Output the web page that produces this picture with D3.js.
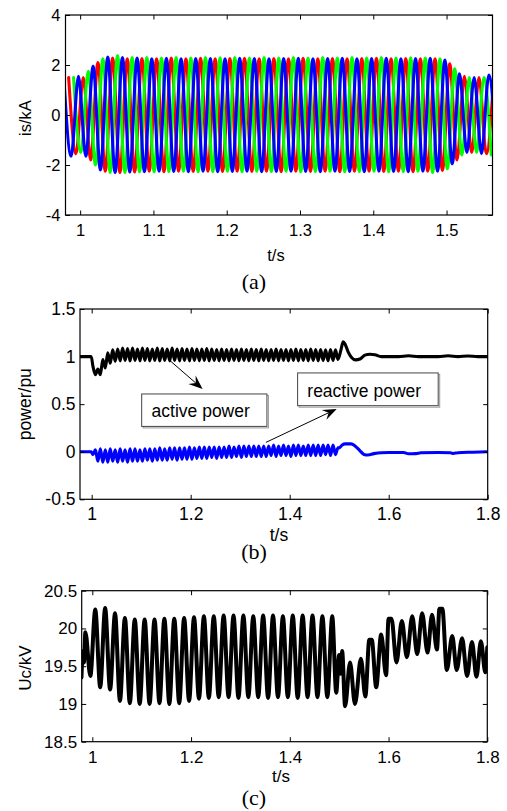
<!DOCTYPE html>
<html>
<head>
<meta charset="utf-8">
<script src="https://cdn.jsdelivr.net/npm/d3@7"></script>
<style>
  body { margin: 0; background: #fff; }
  svg { display: block; }
</style>
</head>
<body>
<svg id="chart"></svg>
<script>
// ---------- (a) stator currents, extrema every half cycle (0.01 s) ----------
const isStep = 0.01;
const isRedStart = 0.9843;
const isRed = [
  1.5, -1.55, 1.5, -1.8, 2.1, -2.25, 2.28, -2.3, 2.25, -2.28,
  2.26, -2.25, 2.25, -2.27, 2.28, -2.25, 2.25, -2.26, 2.27, -2.25,
  2.25, -2.26, 2.26, -2.25, 2.27, -2.26, 2.25, -2.25, 2.26, -2.27,
  2.25, -2.25, 2.27, -2.26, 2.25, -2.25, 2.26, -2.27, 2.25, -2.25,
  2.26, -2.25, 2.27, -2.26, 2.25, -2.25, 2.26, -2.27, 2.25, -2.25,
  2.25, -2.22, 2.05, -1.8, 1.55, -1.5, 1.5, -1.55, 1.5
];
const isGreenStart = 0.991;
const isGreen = [
  1.5, -1.5, 1.75, -2.0, 2.25, -2.3, 2.38, -2.3, 2.3, -2.27,
  2.3, -2.27, 2.28, -2.26, 2.3, -2.25, 2.28, -2.27, 2.3, -2.26,
  2.29, -2.25, 2.3, -2.27, 2.28, -2.25, 2.3, -2.26, 2.28, -2.25,
  2.3, -2.27, 2.28, -2.26, 2.3, -2.25, 2.28, -2.27, 2.3, -2.26,
  2.28, -2.25, 2.3, -2.27, 2.28, -2.26, 2.29, -2.25, 2.28, -2.3,
  2.25, -2.15, 1.85, -1.6, 1.5, -1.5, 1.5, -1.6
];
const isBlueStart = 0.9777;
const isBlue = [
  1.5, -1.65, 1.55, -1.65, 1.95, -2.2, 2.32, -2.3, 2.3, -2.28,
  2.28, -2.27, 2.25, -2.25, 2.27, -2.26, 2.25, -2.27, 2.26, -2.25,
  2.26, -2.27, 2.25, -2.26, 2.27, -2.25, 2.26, -2.27, 2.25, -2.26,
  2.26, -2.25, 2.27, -2.26, 2.25, -2.27, 2.26, -2.25, 2.27, -2.26,
  2.25, -2.27, 2.26, -2.25, 2.27, -2.26, 2.25, -2.27, 2.26, -2.25,
  2.27, -2.25, 2.2, -1.95, 1.65, -1.5, 1.5, -1.55, 1.6, -1.5
];
const aXTicks = [1, 1.1, 1.2, 1.3, 1.4, 1.5];
const aXLabels = ['1', '1.1', '1.2', '1.3', '1.4', '1.5'];
const aYTicks = [-4, -2, 0, 2, 4];
const aYLabels = ['-4', '-2', '0', '2', '4'];

// ---------- (b) active / reactive power ----------
const oscStep = 0.005;
const pHead = [[0.977, 1.0], [0.99, 1.0], [0.999, 1.0]];
const pOscStart = 1.0025;
const pOsc = [
  0.90, 0.81, 0.87, 0.81, 0.97, 0.88, 1.04, 0.93, 1.07, 0.95,
  1.08, 0.955, 1.09, 0.96, 1.085, 0.955, 1.09, 0.96, 1.08, 0.955,
  1.09, 0.96, 1.085, 0.955, 1.08, 0.96, 1.09, 0.955, 1.085, 0.96,
  1.08, 0.955, 1.09, 0.96, 1.08, 0.955, 1.085, 0.96, 1.08, 0.955,
  1.085, 0.96, 1.08, 0.955, 1.08, 0.96, 1.085, 0.955, 1.08, 0.96,
  1.075, 0.955, 1.08, 0.96, 1.075, 0.955, 1.08, 0.96, 1.075, 0.955,
  1.08, 0.96, 1.075, 0.955, 1.08, 0.96, 1.075, 0.955, 1.08, 0.96,
  1.075, 0.955, 1.075, 0.96, 1.08, 0.955, 1.075, 0.96, 1.075, 0.955,
  1.075, 0.96, 1.08, 0.955, 1.075, 0.96, 1.075, 0.955, 1.08, 0.96,
  1.075, 0.955, 1.075, 0.96, 1.07, 0.955, 1.075, 0.96, 1.07, 0.97
];
const pTail = [
  [1.5, 1.0], [1.504, 1.08], [1.508, 1.155], [1.512, 1.13], [1.518, 1.05],
  [1.525, 0.99], [1.533, 0.965], [1.542, 0.975], [1.552, 1.015], [1.562, 1.025],
  [1.572, 1.02], [1.585, 1.0], [1.6, 1.0], [1.62, 1.0], [1.64, 1.008],
  [1.66, 1.0], [1.68, 1.0], [1.7, 1.0], [1.72, 1.008], [1.74, 1.0],
  [1.76, 1.006], [1.78, 1.0], [1.8, 1.0]
];
const qHead = [[0.977, 0], [0.99, 0], [0.999, 0]];
const qOscStart = 1.0025;
const qOsc = [
  -0.03, 0.02, -0.10, 0.03, -0.11, 0.02, -0.11, 0.03, -0.10, 0.02,
  -0.11, 0.03, -0.10, 0.02, -0.11, 0.03, -0.10, 0.03, -0.10, 0.02,
  -0.10, 0.03, -0.09, 0.03, -0.10, 0.03, -0.09, 0.04, -0.09, 0.03,
  -0.09, 0.04, -0.08, 0.04, -0.09, 0.04, -0.08, 0.04, -0.08, 0.05,
  -0.08, 0.04, -0.07, 0.05, -0.07, 0.05, -0.07, 0.05, -0.06, 0.05,
  -0.07, 0.05, -0.06, 0.05, -0.06, 0.06, -0.06, 0.05, -0.05, 0.06,
  -0.06, 0.06, -0.05, 0.06, -0.05, 0.06, -0.05, 0.06, -0.05, 0.06,
  -0.05, 0.06, -0.04, 0.07, -0.05, 0.06, -0.04, 0.07, -0.04, 0.06,
  -0.05, 0.07, -0.04, 0.07, -0.04, 0.06, -0.04, 0.07, -0.04, 0.07,
  -0.04, 0.07, -0.04, 0.07, -0.03, 0.07, -0.04, 0.07, -0.03, 0.04
];
const qTail = [
  [1.5, 0.04], [1.506, 0.07], [1.512, 0.082], [1.524, 0.082], [1.532, 0.06],
  [1.542, 0.01], [1.55, -0.028], [1.558, -0.034], [1.57, -0.02], [1.585, -0.01],
  [1.6, -0.008], [1.63, -0.008], [1.64, -0.022], [1.655, -0.02], [1.665, -0.01],
  [1.7, -0.008], [1.725, -0.01], [1.73, -0.018], [1.74, -0.01], [1.77, -0.005],
  [1.8, 0]
];
const bXTicks = [1, 1.2, 1.4, 1.6, 1.8];
const bXLabels = ['1', '1.2', '1.4', '1.6', '1.8'];
const bYTicks = [-0.5, 0, 0.5, 1, 1.5];
const bYLabels = ['-0.5', '0', '0.5', '1', '1.5'];

// ---------- (c) capacitor voltage ----------
const ucHead = [[0.978, 19.35], [0.981, 19.7], [0.983, 19.55]];
const ucOscStart = 0.986;
const ucStep = 0.01;
const ucOsc = [
  19.95, 19.37, 20.25, 19.22, 20.27, 19.19, 20.2, 19.04, 20.14, 19.01,
  20.12, 19.0, 20.12, 19.0, 20.12, 19.01, 20.13, 19.0, 20.13, 19.01,
  20.14, 19.04, 20.15, 19.07, 20.16, 19.08, 20.16, 19.09, 20.17, 19.09,
  20.17, 19.08, 20.17, 19.09, 20.16, 19.09, 20.17, 19.08, 20.17, 19.09,
  20.16, 19.09, 20.17, 19.08, 20.17, 19.09, 20.17, 19.09, 20.16, 19.09,
  20.16
];
const ucTail = [
  [1.494, 19.15], [1.5, 19.65], [1.503, 19.4], [1.506, 19.7], [1.512, 18.97],
  [1.522, 19.55], [1.532, 19.0], [1.544, 19.6], [1.553, 19.1], [1.561, 19.85],
  [1.566, 19.85], [1.575, 19.22], [1.585, 19.92], [1.595, 19.38], [1.6, 20.13],
  [1.606, 20.13], [1.616, 19.55], [1.627, 20.1], [1.637, 19.62], [1.648, 20.16],
  [1.658, 19.66], [1.668, 20.2], [1.679, 19.68], [1.688, 20.18], [1.698, 19.72],
  [1.703, 20.26], [1.709, 20.26], [1.718, 19.45], [1.729, 19.9], [1.738, 19.45],
  [1.749, 19.87], [1.759, 19.37], [1.769, 19.82], [1.778, 19.36], [1.787, 19.83],
  [1.796, 19.42], [1.8, 19.75]
];
const cXTicks = [1, 1.2, 1.4, 1.6, 1.8];
const cXLabels = ['1', '1.2', '1.4', '1.6', '1.8'];
const cYTicks = [18.5, 19, 19.5, 20, 20.5];
const cYLabels = ['18.5', '19', '19.5', '20', '20.5'];

// annotations of panel (b), in data units
const annotations = [
  { text: 'active power', box: [1.101, 1.354, 0.607, 0.266], textAt: [1.121, 0.361],
    from: [1.158, 0.958], to: [1.224, 0.66] },
  { text: 'reactive power', box: [1.416, 1.700, 0.828, 0.484], textAt: [1.4356, 0.572],
    from: [1.352, 0.098], to: [1.495, 0.45] }
];

const W = 507, H = 811;
const sans = 'Liberation Sans, Arial, Helvetica, sans-serif';
const serif = 'Liberation Serif, Times New Roman, serif';

const svg = d3.select('#chart').attr('width', W).attr('height', H);

const grid = (t0, step, vals) => vals.map((v, i) => [t0 + i * step, v]);

function drawPanel(cfg) {
  const x = d3.scaleLinear().domain(cfg.xDomain).range([cfg.left, cfg.right]);
  const y = d3.scaleLinear().domain(cfg.yDomain).range([cfg.bottom, cfg.top]);
  const g = svg.append('g');

  const clipId = 'clip-' + cfg.id;
  g.append('clipPath').attr('id', clipId)
    .append('rect')
    .attr('x', cfg.left).attr('y', cfg.top)
    .attr('width', cfg.right - cfg.left).attr('height', cfg.bottom - cfg.top);

  const line = d3.line()
    .x(d => x(d[0]))
    .y(d => y(d[1]))
    .curve(d3.curveMonotoneX);

  const plot = g.append('g').attr('clip-path', `url(#${clipId})`);
  cfg.series.forEach(s => {
    plot.append('path')
      .attr('d', line(s.data))
      .attr('fill', 'none')
      .attr('stroke', s.color)
      .attr('stroke-width', s.width)
      .attr('stroke-linejoin', 'round')
      .attr('stroke-linecap', 'round');
  });

  const fmt = (ticks, labels) => v => labels[ticks.indexOf(v)];
  const tk = 4.5;

  const xb = g.append('g')
    .attr('transform', `translate(0,${cfg.bottom})`)
    .call(d3.axisBottom(x).tickValues(cfg.xTicks).tickFormat(fmt(cfg.xTicks, cfg.xLabels))
      .tickSize(-tk).tickPadding(cfg.xPad));
  const yl = g.append('g')
    .attr('transform', `translate(${cfg.left},0)`)
    .call(d3.axisLeft(y).tickValues(cfg.yTicks).tickFormat(fmt(cfg.yTicks, cfg.yLabels))
      .tickSize(-tk).tickPadding(cfg.yPad));
  const xt = g.append('g')
    .attr('transform', `translate(0,${cfg.top})`)
    .call(d3.axisTop(x).tickValues(cfg.xTicks).tickFormat('').tickSize(-tk));
  const yr = g.append('g')
    .attr('transform', `translate(${cfg.right},0)`)
    .call(d3.axisRight(y).tickValues(cfg.yTicks).tickFormat('').tickSize(-tk));

  [xb, yl, xt, yr].forEach(a => {
    a.select('.domain').remove();
    a.selectAll('line').attr('stroke', '#000').attr('stroke-width', 1);
    a.selectAll('text')
      .attr('font-family', sans)
      .attr('font-size', cfg.fontSize)
      .attr('fill', '#000');
  });

  g.append('rect')
    .attr('x', cfg.left).attr('y', cfg.top)
    .attr('width', cfg.right - cfg.left).attr('height', cfg.bottom - cfg.top)
    .attr('fill', 'none').attr('stroke', '#000').attr('stroke-width', 1.2);

  g.append('text')
    .attr('x', cfg.xLabelX).attr('y', cfg.bottom + cfg.xLabelDy)
    .attr('text-anchor', 'middle')
    .attr('font-family', sans).attr('font-size', cfg.fontSize).attr('fill', '#000')
    .text('t/s');

  g.append('text')
    .attr('transform', `translate(${cfg.yLabelX},${(cfg.top + cfg.bottom) / 2 + cfg.yLabelShift}) rotate(-90)`)
    .attr('text-anchor', 'middle')
    .attr('font-family', sans).attr('font-size', cfg.fontSize).attr('fill', '#000')
    .text(cfg.yLabel);

  g.append('text')
    .attr('x', 254).attr('y', cfg.captionY)
    .attr('text-anchor', 'middle')
    .attr('font-family', serif).attr('font-size', 22).attr('fill', '#000')
    .text(cfg.caption);

  return { x, y, g };
}

// (a)
drawPanel({
  id: 'a', left: 65.5, right: 492.5, top: 15, bottom: 215,
  xDomain: [0.98, 1.5627], yDomain: [-4, 4],
  xTicks: aXTicks, xLabels: aXLabels, yTicks: aYTicks, yLabels: aYLabels,
  fontSize: 16.5, xPad: 9.3, yPad: 5,
  xLabelX: 276, xLabelDy: 46, yLabelX: 31, yLabelShift: 3, yLabel: 'is/kA',
  caption: '(a)', captionY: 289,
  series: [
    { data: grid(isRedStart, isStep, isRed), color: '#ff0000', width: 3.1 },
    { data: grid(isGreenStart, isStep, isGreen), color: '#00ff00', width: 3.1 },
    { data: grid(isBlueStart, isStep, isBlue), color: '#0000ff', width: 3.1 }
  ]
});

// (b)
const pb = drawPanel({
  id: 'b', left: 80, right: 487.7, top: 309, bottom: 499.3,
  xDomain: [0.9764, 1.8], yDomain: [-0.5, 1.5],
  xTicks: bXTicks, xLabels: bXLabels, yTicks: bYTicks, yLabels: bYLabels,
  fontSize: 17.5, xPad: 8.5, yPad: 4.5,
  xLabelX: 279, xLabelDy: 42, yLabelX: 31, yLabelShift: 0, yLabel: 'power/pu',
  caption: '(b)', captionY: 559,
  series: [
    { data: pHead.concat(grid(pOscStart, oscStep, pOsc), pTail), color: '#000', width: 3.1 },
    { data: qHead.concat(grid(qOscStart, oscStep, qOsc), qTail), color: '#0000ff', width: 3.1 }
  ]
});

// annotations on (b)
annotations.forEach(a => {
  const bx0 = pb.x(a.box[0]), bx1 = pb.x(a.box[1]);
  const by0 = pb.y(a.box[2]), by1 = pb.y(a.box[3]);
  pb.g.append('rect')
    .attr('x', bx0 + 1.5).attr('y', by0 + 1.5)
    .attr('width', bx1 - bx0).attr('height', by1 - by0)
    .attr('fill', 'none').attr('stroke', '#999').attr('stroke-width', 1);
  pb.g.append('rect')
    .attr('x', bx0).attr('y', by0)
    .attr('width', bx1 - bx0).attr('height', by1 - by0)
    .attr('fill', '#fff').attr('stroke', '#444').attr('stroke-width', 1);
  pb.g.append('text')
    .attr('x', pb.x(a.textAt[0])).attr('y', pb.y(a.textAt[1]))
    .attr('font-family', sans).attr('font-size', 17.5).attr('fill', '#000')
    .text(a.text);

  const x1 = pb.x(a.from[0]), y1 = pb.y(a.from[1]);
  const x2 = pb.x(a.to[0]), y2 = pb.y(a.to[1]);
  const ang = Math.atan2(y2 - y1, x2 - x1);
  const L = 14, Wd = 5.5, notch = 9;
  const ux = Math.cos(ang), uy = Math.sin(ang);
  const px = -uy, py = ux;
  pb.g.append('line')
    .attr('x1', x1).attr('y1', y1)
    .attr('x2', x2 - ux * notch).attr('y2', y2 - uy * notch)
    .attr('stroke', '#000').attr('stroke-width', 1);
  const head = [
    [x2, y2],
    [x2 - ux * L + px * Wd, y2 - uy * L + py * Wd],
    [x2 - ux * notch, y2 - uy * notch],
    [x2 - ux * L - px * Wd, y2 - uy * L - py * Wd]
  ];
  pb.g.append('path')
    .attr('d', 'M' + head.map(p => p.join(',')).join('L') + 'Z')
    .attr('fill', '#000');
});

// (c)
drawPanel({
  id: 'c', left: 81.7, right: 487.3, top: 590.7, bottom: 741.7,
  xDomain: [0.9785, 1.8], yDomain: [18.5, 20.5],
  xTicks: cXTicks, xLabels: cXLabels, yTicks: cYTicks, yLabels: cYLabels,
  fontSize: 17, xPad: 9, yPad: 4.5,
  xLabelX: 281, xLabelDy: 40, yLabelX: 31, yLabelShift: 2, yLabel: 'Uc/kV',
  caption: '(c)', captionY: 805,
  series: [
    { data: ucHead.concat(grid(ucOscStart, ucStep, ucOsc), ucTail), color: '#000', width: 4 }
  ]
});
</script>
</body>
</html>
